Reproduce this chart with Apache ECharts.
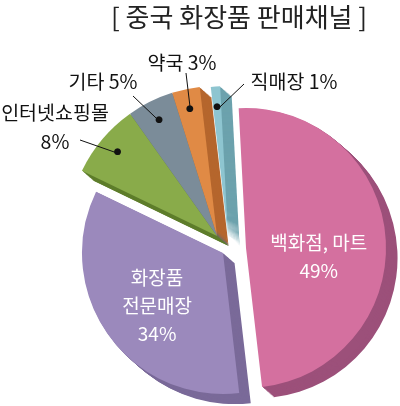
<!DOCTYPE html>
<html>
<head>
<meta charset="utf-8">
<script src="https://cdn.jsdelivr.net/npm/echarts@6/dist/echarts.min.js"></script>
<style>
html, body { margin: 0; padding: 0; background: #fff; }
#chart { width: 400px; height: 406px; }
</style>
</head>
<body>
<div id="chart"></div>
<script>
// 데이터
const channels = ['백화점, 마트', '화장품\n전문매장', '인터넷쇼핑몰', '기타', '약국', '직매장']
const shares = [49, 34, 8, 5, 3, 1]

// 스타일
const topColor = ['#d4709f', '#9b89bc', '#89ab4a', '#7b8c99', '#e08a45', '#8ec5d0']
const sideColor = ['#9c507a', '#7a6a99', '#5f7e2c', '#5b6b77', '#b5662d', '#6ca2ad']
// 조각별 중심/반지름 (떨어져 나온 조각)
const pieceCenter = [[246, 248], [223, 253], [217, 236], [217, 236], [217, 236], [228, 236]]
const pieceRadius = [140, 141, 150, 150, 150, 150]
const lineBreak = [true, true, true, false, false, false]
const insideShift = [[0, 15], [-6, 10], null, null, null, null]
// 바깥 라벨: [라벨 x, 라벨 y, 선 끝 x, 선 끝 y]
const outsideSpot = [null, null, [55, 127, 80, 140], [103, 82, 133, 96], [182, 63, 186, 73], [294, 82, 244, 84]]

const DEPTH = 11
const FONT = '"Noto Sans CJK KR", "Noto Sans", sans-serif'

const labelText = i => channels[i] + (lineBreak[i] ? '\n' : ' ') + shares[i] + '%'

const base = {
  type: 'pie',
  clockwise: true,
  startAngle: 93,
  silent: true,
  animation: false,
  avoidLabelOverlap: false,
  label: { show: false },
  labelLine: { show: false }
}

function pieData(only, color) {
  return channels.map((name, k) => ({
    name,
    value: shares[k],
    itemStyle: { color: k === only ? color : 'transparent', borderWidth: 0 }
  }))
}

function piece(i, dx, dy, color, z) {
  return Object.assign({}, base, {
    z,
    center: [pieceCenter[i][0] + dx, pieceCenter[i][1] + dy],
    radius: [0, pieceRadius[i]],
    data: pieData(i, color)
  })
}

const series = []

// 옆면 (입체)
channels.forEach((_, i) => {
  for (let t = DEPTH; t >= 1; t--) {
    series.push(piece(i, t * 1.05, t * 0.92, sideColor[i], 1))
  }
})

// 윗면
channels.forEach((_, i) => {
  const s = piece(i, 0, 0, topColor[i], 2)
  if (insideShift[i]) {
    s.data[i].label = {
      show: true, position: 'inside', formatter: labelText(i),
      color: '#fff', fontSize: 19, lineHeight: 28, fontFamily: FONT
    }
    s.labelLayout = { dx: insideShift[i][0], dy: insideShift[i][1] }
  }
  series.push(s)
})

// 바깥 라벨 + 지시선
channels.forEach((_, i) => {
  const spot = outsideSpot[i]
  if (!spot) return
  const s = Object.assign({}, base, {
    z: 3,
    center: pieceCenter[i],
    radius: [0, 127],
    data: pieData(-1, 'transparent')
  })
  s.data[i].label = {
    show: true, position: 'outside', formatter: labelText(i),
    color: '#111', fontSize: 19.5, lineHeight: 29, fontFamily: FONT, align: 'center'
  }
  s.data[i].labelLine = { show: true, length: 10, length2: 10, lineStyle: { color: '#111', width: 1 } }
  s.labelLayout = p => {
    if (p.dataIndex !== i) return {}
    const end = [spot[2], spot[3]]
    return {
      x: spot[0], y: spot[1], align: 'center', verticalAlign: 'middle',
      labelLinePoints: [p.labelLinePoints[0], end, end]
    }
  }
  series.push(s)

  // 점
  const d = Object.assign({}, base, {
    z: 4,
    center: pieceCenter[i],
    radius: [121, 133],
    data: pieData(-1, 'transparent')
  })
  d.data[i].label = {
    show: true, position: 'inside', formatter: '●',
    color: '#111', fontSize: 9, fontFamily: 'DejaVu Sans'
  }
  series.push(d)
})

const option = {
  backgroundColor: '#fff',
  textStyle: { fontFamily: FONT },
  title: {
    text: '[ 중국 화장품 판매채널 ]',
    left: 106,
    top: -1,
    textStyle: { fontSize: 26, fontWeight: 'normal', color: '#222', fontFamily: FONT }
  },
  series
}

const chart = echarts.init(document.getElementById('chart'))
chart.setOption(option)
</script>
</body>
</html>
